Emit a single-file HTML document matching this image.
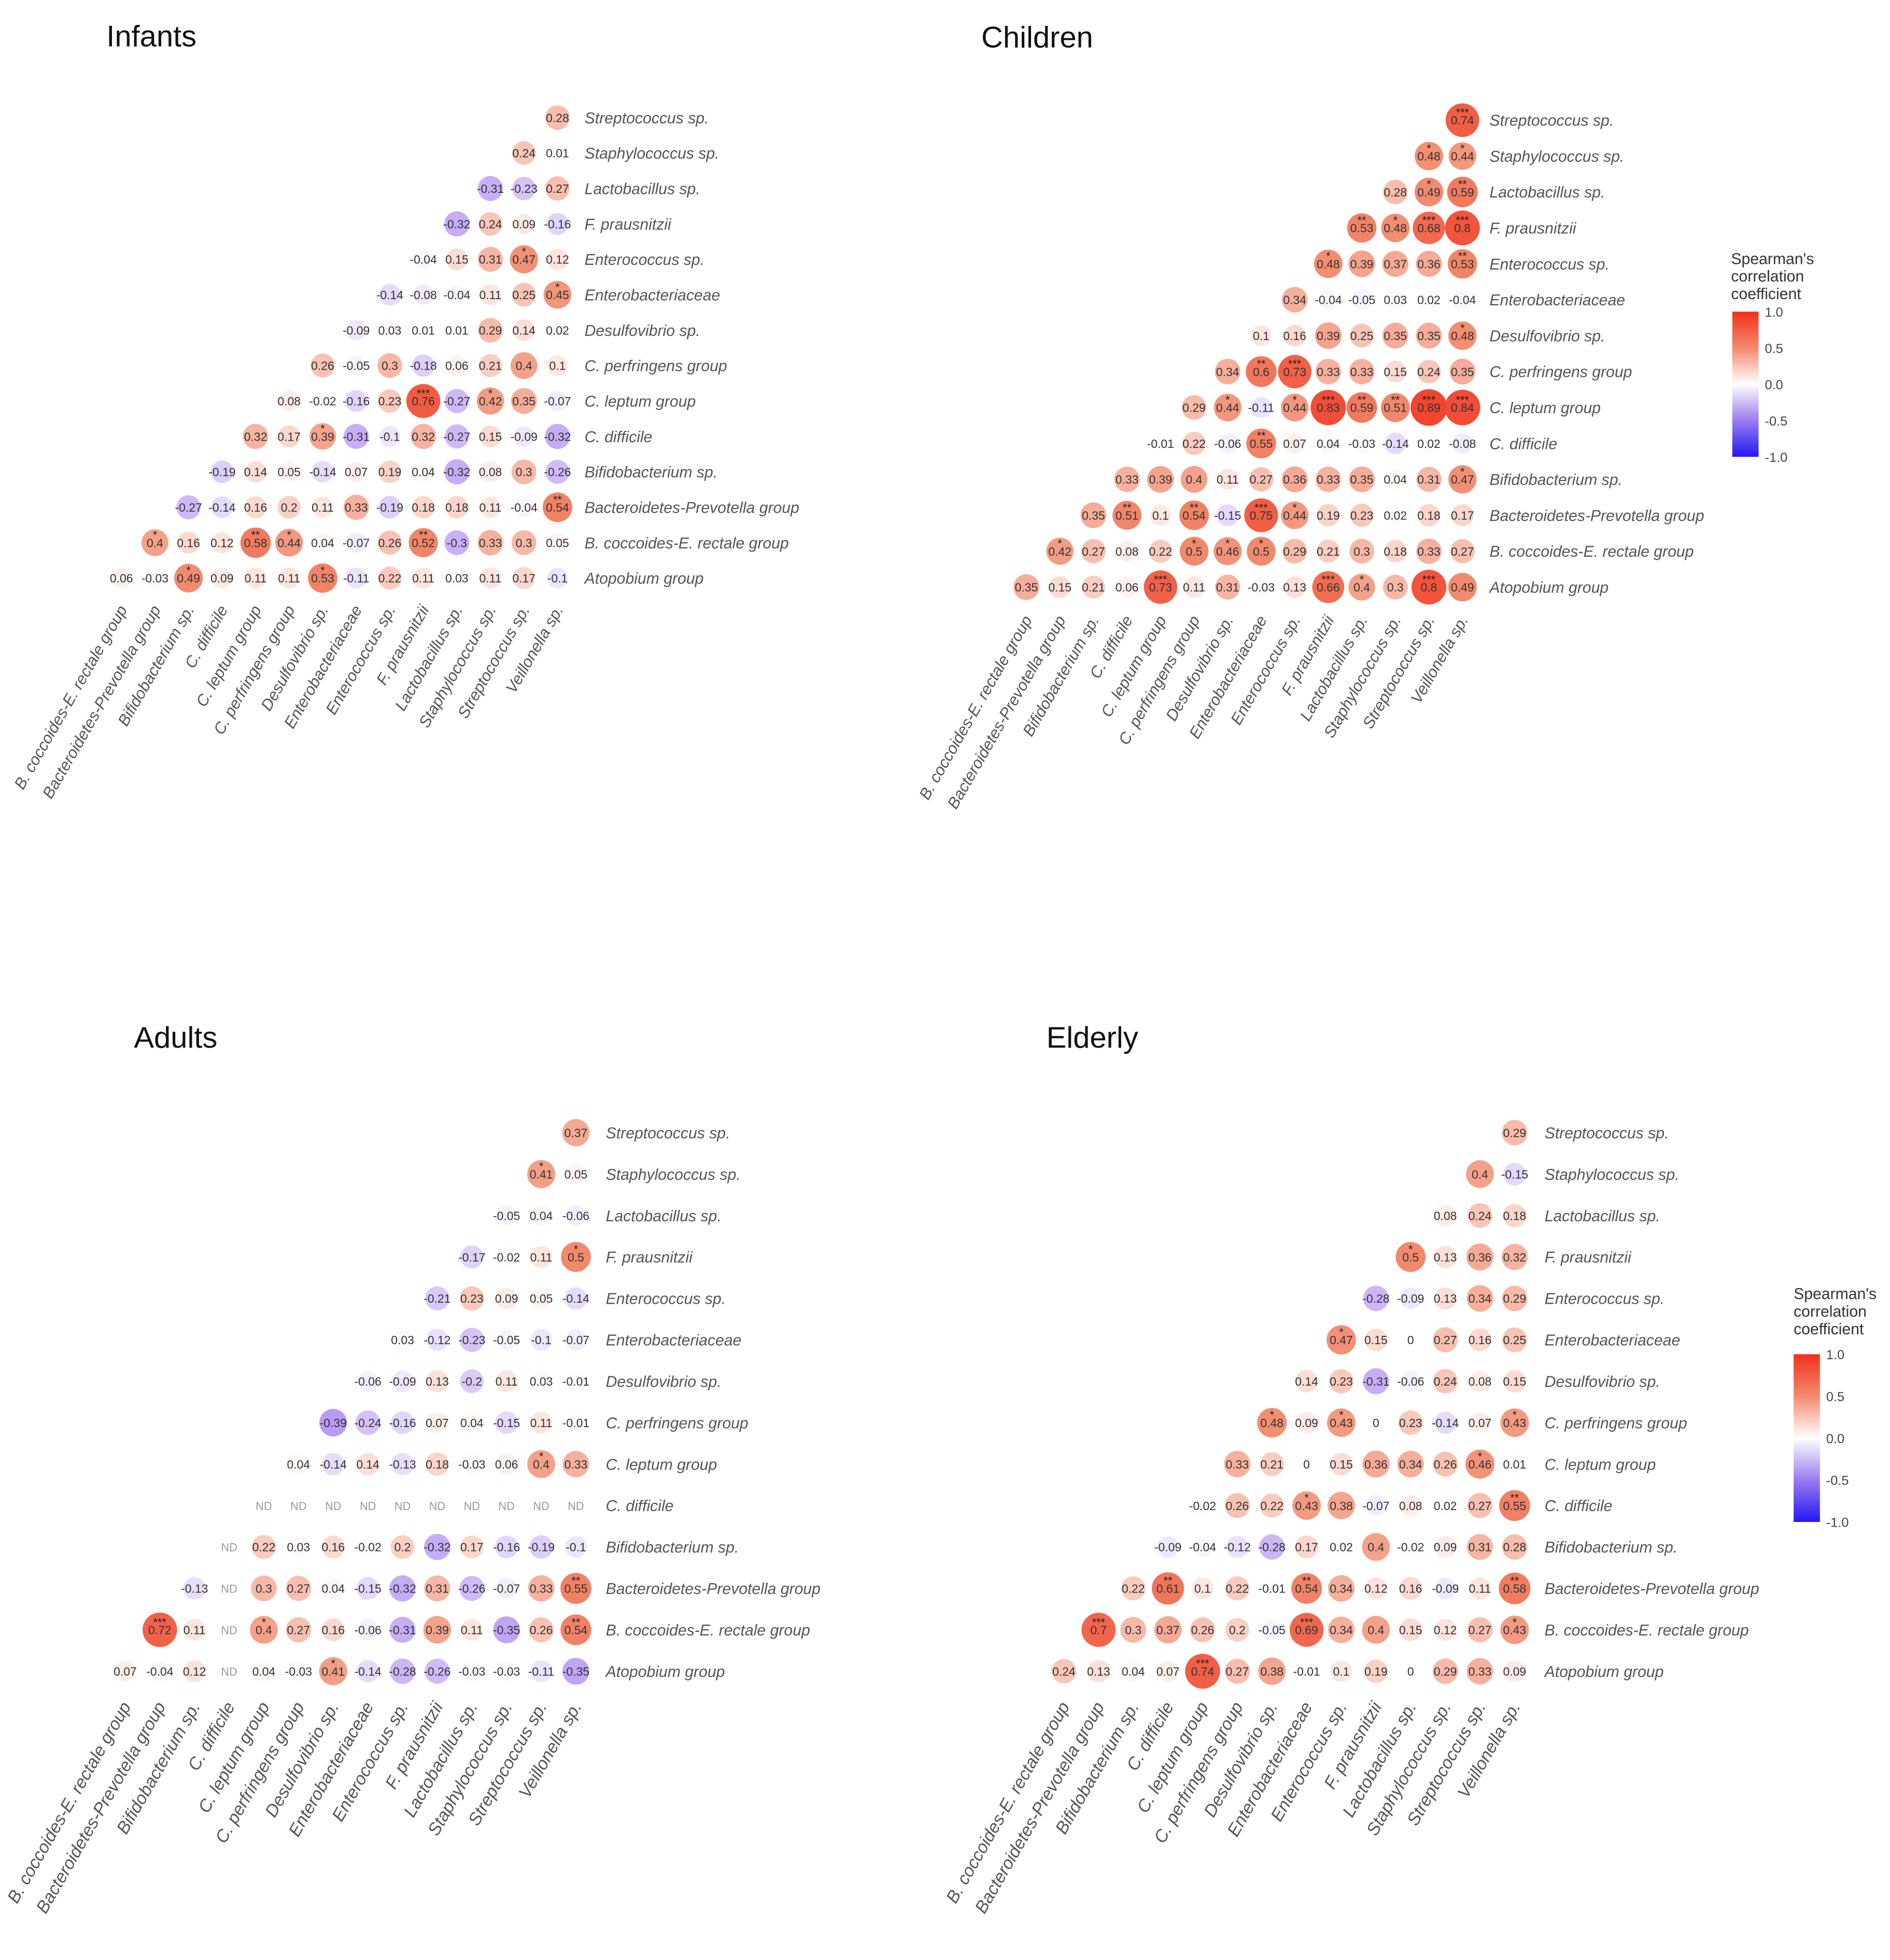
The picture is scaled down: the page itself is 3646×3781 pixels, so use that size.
<!DOCTYPE html>
<html><head><meta charset="utf-8">
<style>
html,body{margin:0;padding:0;background:#fff;}
svg{display:block;}
text{font-family:"Liberation Sans",sans-serif;}
</style></head>
<body>
<svg id="chart" width="3646" height="3781" viewBox="0 0 1510 1566" preserveAspectRatio="none" xmlns="http://www.w3.org/2000/svg">
<defs>
<linearGradient id="grad" x1="0" y1="0" x2="0" y2="1">
<stop offset="0" stop-color="#f2301c"/>
<stop offset="0.25" stop-color="#f28a6e"/>
<stop offset="0.5" stop-color="#ffffff"/>
<stop offset="0.75" stop-color="#9a7cf0"/>
<stop offset="1" stop-color="#2418f5"/>
</linearGradient>
</defs>
<g id="root"></g>
</svg>
<script>
const rowCats = ["Streptococcus sp.","Staphylococcus sp.","Lactobacillus sp.","F. prausnitzii","Enterococcus sp.","Enterobacteriaceae","Desulfovibrio sp.","C. perfringens group","C. leptum group","C. difficile","Bifidobacterium sp.","Bacteroidetes-Prevotella group","B. coccoides-E. rectale group","Atopobium group"];
const colCats = ["B. coccoides-E. rectale group","Bacteroidetes-Prevotella group","Bifidobacterium sp.","C. difficile","C. leptum group","C. perfringens group","Desulfovibrio sp.","Enterobacteriaceae","Enterococcus sp.","F. prausnitzii","Lactobacillus sp.","Staphylococcus sp.","Streptococcus sp.","Veillonella sp."];
const legendTicks = ["1.0","0.5","0.0","-0.5","-1.0"];

const infantsValues = [
["0.28"],["0.24","0.01"],["-0.31","-0.23","0.27"],["-0.32","0.24","0.09","-0.16"],
["-0.04","0.15","0.31","0.47*","0.12"],["-0.14","-0.08","-0.04","0.11","0.25","0.45*"],
["-0.09","0.03","0.01","0.01","0.29","0.14","0.02"],
["0.26","-0.05","0.3","-0.18","0.06","0.21","0.4","0.1"],
["0.08","-0.02","-0.16","0.23","0.76***","-0.27","0.42*","0.35","-0.07"],
["0.32","0.17","0.39*","-0.31","-0.1","0.32","-0.27","0.15","-0.09","-0.32"],
["-0.19","0.14","0.05","-0.14","0.07","0.19","0.04","-0.32","0.08","0.3","-0.26"],
["-0.27","-0.14","0.16","0.2","0.11","0.33","-0.19","0.18","0.18","0.11","-0.04","0.54**"],
["0.4*","0.16","0.12","0.58**","0.44*","0.04","-0.07","0.26","0.52**","-0.3","0.33","0.3","0.05"],
["0.06","-0.03","0.49*","0.09","0.11","0.11","0.53*","-0.11","0.22","0.11","0.03","0.11","0.17","-0.1"]];

const childrenValues = [
["0.74***"],["0.48*","0.44*"],["0.28","0.49*","0.59**"],["0.53**","0.48*","0.68***","0.8***"],
["0.48*","0.39","0.37","0.36","0.53**"],["0.34","-0.04","-0.05","0.03","0.02","-0.04"],
["0.1","0.16","0.39","0.25","0.35","0.35","0.48*"],
["0.34","0.6**","0.73***","0.33","0.33","0.15","0.24","0.35"],
["0.29","0.44*","-0.11","0.44*","0.83***","0.59**","0.51**","0.89***","0.84***"],
["-0.01","0.22","-0.06","0.55**","0.07","0.04","-0.03","-0.14","0.02","-0.08"],
["0.33","0.39","0.4","0.11","0.27","0.36","0.33","0.35","0.04","0.31","0.47*"],
["0.35","0.51**","0.1","0.54**","-0.15","0.75***","0.44*","0.19","0.23","0.02","0.18","0.17"],
["0.42*","0.27","0.08","0.22","0.5*","0.46*","0.5*","0.29","0.21","0.3","0.18","0.33","0.27"],
["0.35","0.15","0.21","0.06","0.73***","0.11","0.31","-0.03","0.13","0.66***","0.4*","0.3","0.8***","0.49"]];

const adultsValues = [
["0.37"],["0.41*","0.05"],["-0.05","0.04","-0.06"],["-0.17","-0.02","0.11","0.5*"],
["-0.21","0.23","0.09","0.05","-0.14"],["0.03","-0.12","-0.23","-0.05","-0.1","-0.07"],
["-0.06","-0.09","0.13","-0.2","0.11","0.03","-0.01"],
["-0.39","-0.24","-0.16","0.07","0.04","-0.15","0.11","-0.01"],
["0.04","-0.14","0.14","-0.13","0.18","-0.03","0.06","0.4*","0.33"],
["ND","ND","ND","ND","ND","ND","ND","ND","ND","ND"],
["ND","0.22","0.03","0.16","-0.02","0.2","-0.32","0.17","-0.16","-0.19","-0.1"],
["-0.13","ND","0.3","0.27","0.04","-0.15","-0.32","0.31","-0.26","-0.07","0.33","0.55**"],
["0.72***","0.11","ND","0.4*","0.27","0.16","-0.06","-0.31","0.39","0.11","-0.35","0.26","0.54**"],
["0.07","-0.04","0.12","ND","0.04","-0.03","0.41*","-0.14","-0.28","-0.26","-0.03","-0.03","-0.11","-0.35"]];

const elderlyValues = [
["0.29"],["0.4","-0.15"],["0.08","0.24","0.18"],["0.5*","0.13","0.36","0.32"],
["-0.28","-0.09","0.13","0.34","0.29"],["0.47*","0.15","0","0.27","0.16","0.25"],
["0.14","0.23","-0.31","-0.06","0.24","0.08","0.15"],
["0.48*","0.09","0.43*","0","0.23","-0.14","0.07","0.43*"],
["0.33","0.21","0","0.15","0.36","0.34","0.26","0.46*","0.01"],
["-0.02","0.26","0.22","0.43*","0.38","-0.07","0.08","0.02","0.27","0.55**"],
["-0.09","-0.04","-0.12","-0.28","0.17","0.02","0.4","-0.02","0.09","0.31","0.28"],
["0.22","0.61**","0.1","0.22","-0.01","0.54**","0.34","0.12","0.16","-0.09","0.11","0.58**"],
["0.7***","0.3","0.37","0.26","0.2","-0.05","0.69***","0.34","0.4","0.15","0.12","0.27","0.43*"],
["0.24","0.13","0.04","0.07","0.74***","0.27","0.38","-0.01","0.1","0.19","0","0.29","0.33","0.09"]];

const NS = "http://www.w3.org/2000/svg";
const root = document.getElementById('root');
function mk(tag, attrs, parent){
  const e = document.createElementNS(NS, tag);
  for (const k in attrs) e.setAttribute(k, attrs[k]);
  (parent||root).appendChild(e);
  return e;
}
function lerp(a,b,t){return Math.round(a+(b-a)*t);}
function colorFor(v){
  let s;
  if (v >= 0){
    s = v<=0.5 ? [[255,255,255],[241,137,108],v/0.5] : [[241,137,108],[242,48,28],(v-0.5)/0.5];
  } else {
    const a=-v;
    s = a<=0.5 ? [[255,255,255],[165,125,242],a/0.5] : [[165,125,242],[36,24,245],(a-0.5)/0.5];
  }
  const [c1,c2,t]=s;
  return `rgb(${lerp(c1[0],c2[0],t)},${lerp(c1[1],c2[1],t)},${lerp(c1[2],c2[2],t)})`;
}

const panels = [
 {name:"infants", title:"Infants", tx:85, ty:37, x0:97, dx:26.8, y0:94, dy:28.3, lx:467, data:infantsValues, rs:1, lab:25, lf:12.8},
 {name:"children", title:"Children", tx:784, ty:38, x0:820, dx:26.8, y0:96, dy:28.7, lx:1190, data:childrenValues, rs:1, lab:26, lf:12.8},
 {name:"adults", title:"Adults", tx:107, ty:837, x0:100, dx:27.7, y0:905, dy:33.1, lx:484, data:adultsValues, rs:1.04, lab:28, lf:14},
 {name:"elderly", title:"Elderly", tx:836, ty:837, x0:850, dx:27.7, y0:905, dy:33.1, lx:1234, data:elderlyValues, rs:1.04, lab:28, lf:14}
];

panels.forEach(p=>{
  const g = mk('g',{});
  
  
  const t = mk('text',{x:p.tx,y:p.ty,'font-size':24,fill:'#111'},g);
  t.textContent = p.title;
  
  
  const xPos = c => p.x0 + c*p.dx;
  const yPos = r => p.y0 + r*p.dy;
  p.data.forEach((row,i)=>{
    const lt = mk('text',{x:p.lx,y:yPos(i)+4.5,'font-size':12.5,'font-style':'italic',fill:'#555'},g);
    lt.textContent = rowCats[i];
    
    
    row.forEach((s,j)=>{
      const c = 13 - i + j;
      const cx = xPos(c), cy = yPos(i);
      if (s === "ND"){
        const nd = mk('text',{x:cx,y:cy+3.5,'font-size':9,'text-anchor':'middle',fill:'#999'},g);
        nd.textContent = "ND";
        
        
        return;
      }
      const v = parseFloat(s);
      const stars = (s.match(/\*/g)||[]).length;
      const circ = mk('circle',{cx:cx,cy:cy,r:(7.5+8*Math.abs(v))*p.rs,fill:colorFor(v)},g);
      
      
      const vt = mk('text',{x:cx,y:cy+3.5,'font-size':9.5,'text-anchor':'middle',fill:'#333'},g);
      vt.textContent = String(v);
      
      
      if (stars>0){
        const st = mk('text',{x:cx,y:cy-3,'font-size':9,'text-anchor':'middle',fill:'#222'},g);
        st.textContent = '*'.repeat(stars);
        
        
      }
    });
  });
  const yb = yPos(13) + p.lab;
  colCats.forEach((name,c)=>{
    const x = xPos(c)+5;
    const ct = mk('text',{x:x,y:yb,'font-size':p.lf,'font-style':'italic',fill:'#555','text-anchor':'end',transform:`rotate(-60 ${x} ${yb})`},g);
    ct.textContent = name;
    
    
  });
});

const legends = [{x:1383,y:211,bx:1384,by:249,bh:116},{x:1433,y:1038,bx:1433,by:1082,bh:134}];
legends.forEach((L,k)=>{
  const g = mk('g',{});
  
  
  ["Spearman's","correlation","coefficient"].forEach((w,i)=>{
    const t = mk('text',{x:L.x,y:L.y+i*14,'font-size':12.5,fill:'#333'},g);
    t.textContent = w;
    
    
  });
  const bar = mk('rect',{x:L.bx,y:L.by,width:21,height:L.bh,fill:'url(#grad)'},g);
  
  
  legendTicks.forEach((tk,i)=>{
    const ty = L.by + i*L.bh/4;
    const t = mk('text',{x:L.bx+26,y:ty+4,'font-size':10.5,fill:'#444'},g);
    t.textContent = tk;
    
    
  });
});
</script>
</body></html>
